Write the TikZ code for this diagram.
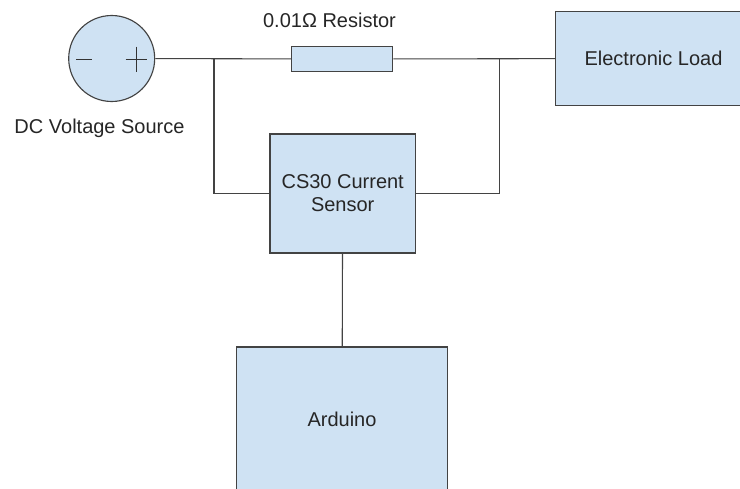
\documentclass[tikz,border=0pt]{standalone}
\usepackage{fontspec}
\setmainfont{Liberation Sans}
\definecolor{boxfill}{HTML}{CFE2F3}
\definecolor{edge}{HTML}{434343}
\tikzset{
  blockbox/.style={draw=edge,fill=boxfill,line width=0.85pt,inner sep=0pt,text=black!85,font=\fontsize{15pt}{17.25pt}\selectfont,align=center,anchor=center},
  wire/.style={draw=edge,line width=0.8pt},
  cap label/.style={inner sep=0pt,text=black!85,font=\fontsize{15pt}{18pt}\selectfont},
  mark line/.style={draw=black!80,line width=0.6pt}
}
\begin{document}
\begin{tikzpicture}[x=0.75pt,y=-0.75pt]
\useasboundingbox (0,0) rectangle (740,489);
\clip (0,0) rectangle (740,489);
\fill[white] (0,0) rectangle (740,489);
\node[blockbox,circle,minimum size=64.5pt] (src) at (111.7,58.5) {};
\node[blockbox,minimum width=76pt,minimum height=18.75pt] (res) at (342.2,59) {};
\node[blockbox,minimum width=147pt,minimum height=70.5pt] (load) at (653.5,58.5) {Electronic Load};
\node[blockbox,minimum width=109pt,minimum height=89.25pt] (sensor) at (342.7,193.5) {CS30 Current\\Sensor};
\node[blockbox,minimum width=158.25pt,minimum height=108pt] (ard) at (342,419) {Arduino};
\node[cap label] (rlabel) at (329.5,20) {0.01Ω Resistor};
\node[cap label] (slabel) at (99.5,128) {DC Voltage Source};
\coordinate (jl) at (214,59);
\coordinate (jr) at (499.5,59);
\coordinate (ml) at (76,59);
\coordinate (mr) at (91.5,59);
\coordinate (pl) at (125.5,59);
\coordinate (pr) at (146.5,59);
\coordinate (pt) at (136,46.5);
\coordinate (pb) at (136,72);
\draw[wire] (src) -- (res);
\draw[wire] (res) -- (load);
\draw[wire] (jl) |- (sensor.west);
\draw[wire] (jr) |- (sensor.east);
\draw[wire] (sensor) -- (ard);
\draw[mark line] (ml) -- (mr);
\draw[mark line] (pl) -- (pr);
\draw[mark line] (pt) -- (pb);
\end{tikzpicture}
\end{document}
